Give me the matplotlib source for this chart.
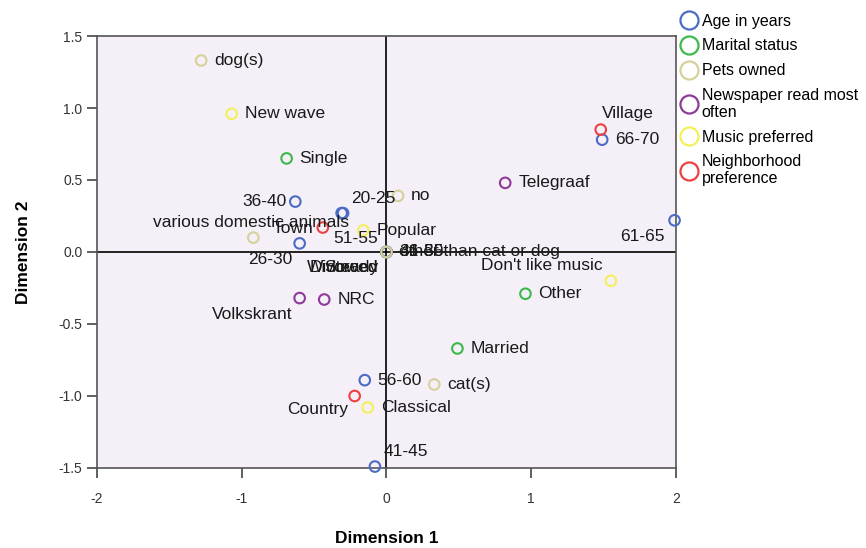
import matplotlib
matplotlib.use("Agg")
import matplotlib.pyplot as plt
from matplotlib.lines import Line2D

plt.rcParams['font.family'] = ['Liberation Sans', 'DejaVu Sans']

# --- data ---
age_labels = ["20-25", "26-30", "31-35", "36-40", "41-45", "46-50", "51-55", "56-60", "61-65", "66-70"]
age_x = [-0.31, -0.60, 0.0, -0.63, -0.08, 0.0, -0.30, -0.15, 1.99, 1.49]
age_y = [0.27, 0.06, 0.0, 0.35, -1.49, 0.0, 0.27, -0.89, 0.22, 0.78]

marital_labels = ["Single", "Married", "Other", "Widowed", "Divorced"]
marital_x = [-0.69, 0.49, 0.96, 0.0, 0.0]
marital_y = [0.65, -0.67, -0.29, 0.0, 0.0]

pets_labels = ["dog(s)", "no", "various domestic animals", "cat(s)", "other than cat or dog"]
pets_x = [-1.28, 0.08, -0.92, 0.33, 0.0]
pets_y = [1.33, 0.39, 0.10, -0.92, 0.0]

news_labels = ["Telegraaf", "Volkskrant", "NRC", "Steady"]
news_x = [0.82, -0.60, -0.43, 0.0]
news_y = [0.48, -0.32, -0.33, 0.0]

music_labels = ["New wave", "Popular", "Classical", "Don't like music"]
music_x = [-1.07, -0.16, -0.13, 1.55]
music_y = [0.96, 0.15, -1.08, -0.20]

hood_labels = ["Town", "Village", "Country"]
hood_x = [-0.44, 1.48, -0.22]
hood_y = [0.17, 0.85, -1.00]

groups = [
    ("Age in years", age_labels, age_x, age_y, "#4a6cc4"),
    ("Marital status", marital_labels, marital_x, marital_y, "#3cb94a"),
    ("Newspaper read most\noften", news_labels, news_x, news_y, "#8e3a98"),
    ("Music preferred", music_labels, music_x, music_y, "#f4f05a"),
    ("Neighborhood\npreference", hood_labels, hood_x, hood_y, "#ee4040"),
    ("Pets owned", pets_labels, pets_x, pets_y, "#d6d09c"),
]
legend_order = ["Age in years", "Marital status", "Pets owned",
                "Newspaper read most\noften", "Music preferred", "Neighborhood\npreference"]

# label placement (pixel offsets from the point)
right = (13, 0, "left", "center")
offsets = {
    "36-40": (-9, 0, "right", "center"),
    "20-25": (10, 15, "left", "center"),
    "51-55": (-10, -25, "left", "center"),
    "26-30": (-7, -16, "right", "center"),
    "61-65": (-10, -16, "right", "center"),
    "Village": (27, 16, "center", "center"),
    "41-45": (9, 15, "left", "center"),
    "various domestic animals": (-2, 15, "center", "center"),
    "Town": (-9, -1, "right", "center"),
    "Widowed": (-8, -16, "right", "center"),
    "Divorced": (-8, -16, "right", "center"),
    "Steady": (-8, -16, "right", "center"),
    "Don't like music": (-8, 15, "right", "center"),
    "Volkskrant": (-7, -16, "right", "center"),
    "Country": (-7, -14, "right", "center"),
}

fig = plt.figure(figsize=(8.66, 5.48), dpi=100)
ax = fig.add_axes([0.112, 0.146, 0.6686, 0.7883])
ax.set_facecolor("#f5eff8")

ax.axhline(0, color="black", lw=1.2, zorder=1)
ax.axvline(0, color="black", lw=1.2, zorder=1)

for name, labels, xs, ys, col in groups:
    ax.scatter(xs, ys, s=58, facecolors="none", edgecolors=col, linewidths=1.5, zorder=3, clip_on=False)
    for lab, x, y in zip(labels, xs, ys):
        dx, dy, ha, va = offsets.get(lab, right)
        ax.annotate(lab, (x, y), xytext=(dx, dy), textcoords="offset pixels",
                    ha=ha, va=va, fontsize=12.5, color="#1a1a1a", zorder=4)

ax.set_xlim(-2, 2)
ax.set_ylim(-1.5, 1.5)
ax.set_xticks([-2, -1, 0, 1, 2])
ax.set_xticklabels(["-2", "-1", "0", "1", "2"])
ax.set_yticks([-1.5, -1.0, -0.5, 0.0, 0.5, 1.0, 1.5])
ax.set_yticklabels(["-1.5", "-1.0", "-0.5", "0.0", "0.5", "1.0", "1.5"])
ax.tick_params(direction="out", length=7, width=1.2, color="#444444", labelsize=10, labelcolor="#333333")
ax.tick_params(axis="x", pad=10)
for sp in ax.spines.values():
    sp.set_color("#555555")
    sp.set_linewidth(1.2)

ax.set_xlabel("Dimension 1", fontsize=12.5, fontweight="bold", labelpad=18)
ax.set_ylabel("Dimension 2", fontsize=12.5, fontweight="bold", labelpad=20)

colors = {g[0]: g[4] for g in groups}
handles = [Line2D([], [], ls="none", marker="o", markersize=13, markerfacecolor="none",
                  markeredgecolor=colors[n], markeredgewidth=1.6) for n in legend_order]
leg = fig.legend(handles, legend_order, loc="upper left", bbox_to_anchor=(0.779, 0.987),
                 frameon=False, fontsize=11.5, handletextpad=0.3, handlelength=1.0,
                 labelspacing=0.62, borderaxespad=0)
for t in leg.get_texts():
    t.set_linespacing(1.12)

fig.savefig("out.png", dpi=100)
